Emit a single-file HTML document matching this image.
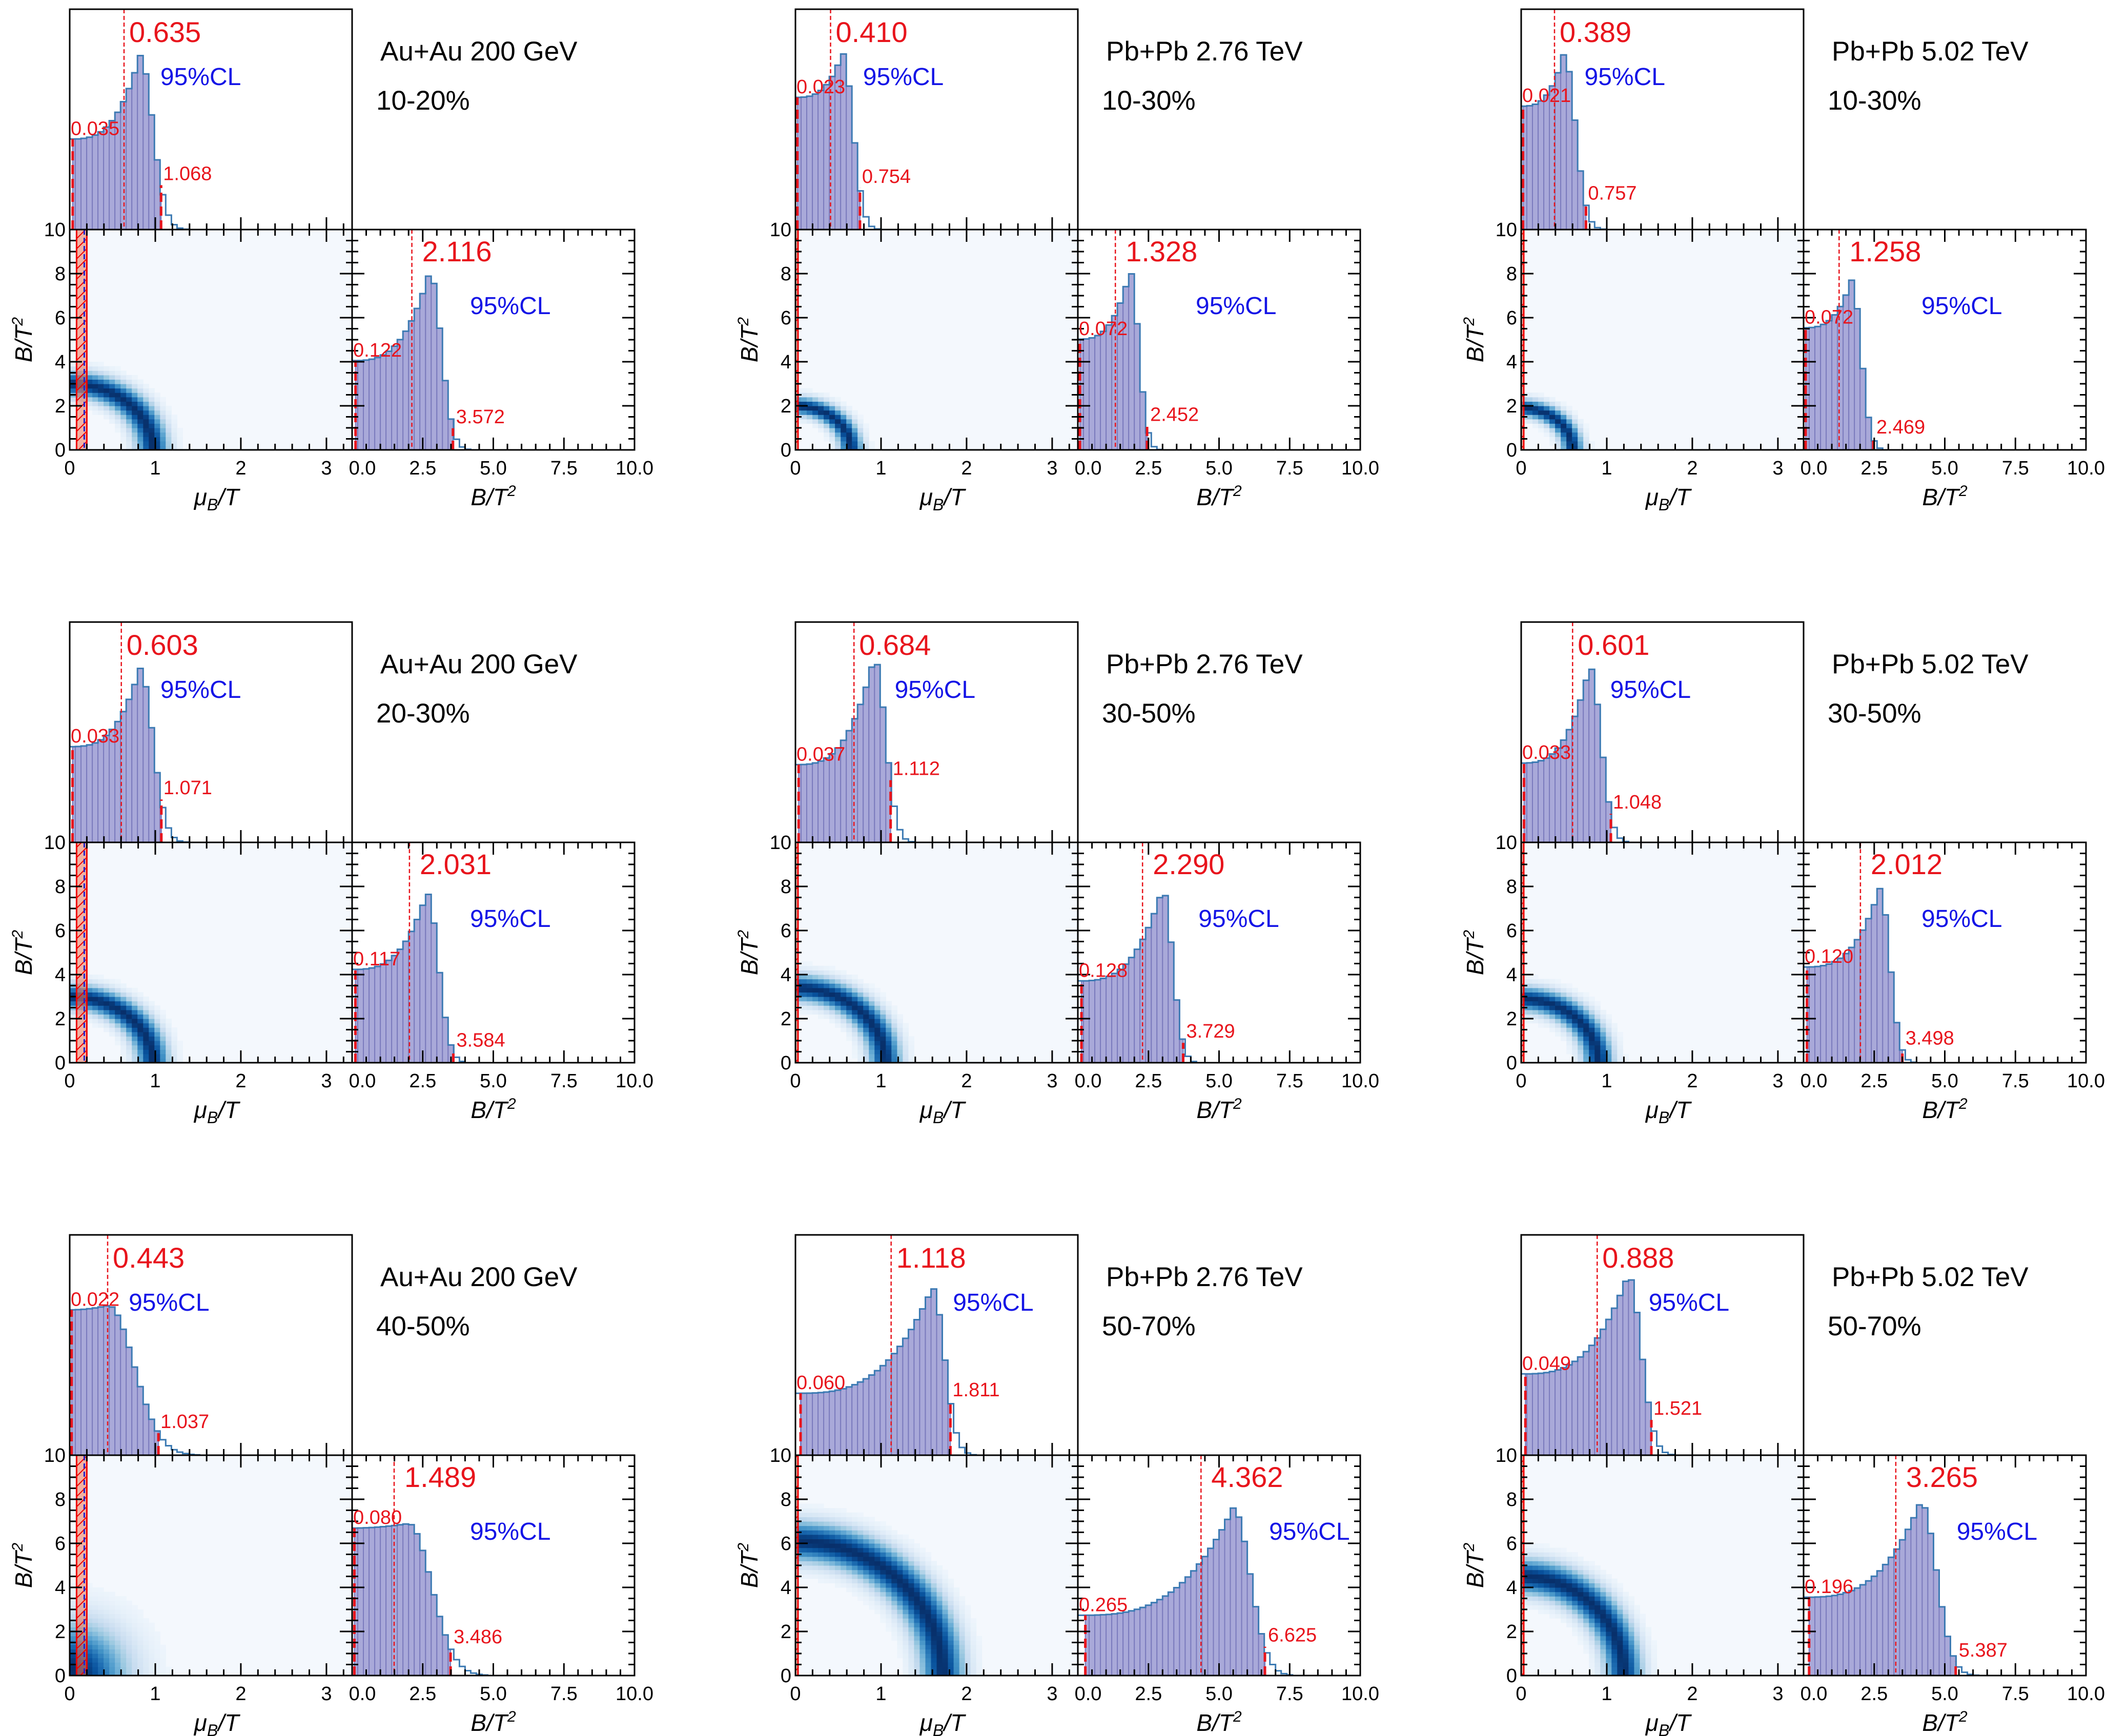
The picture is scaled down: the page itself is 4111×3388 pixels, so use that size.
<!DOCTYPE html>
<html><head><meta charset="utf-8"><style>
html,body{margin:0;padding:0;background:#fff;}
svg{display:block;font-family:"Liberation Sans",Arial,sans-serif;}
</style></head><body>
<svg id="s" width="4111" height="3388" viewBox="0 0 4111 3388" xmlns="http://www.w3.org/2000/svg">
<defs>
<pattern id="hatch" width="14" height="14" patternUnits="userSpaceOnUse" patternTransform="rotate(45)">
<rect width="14" height="14" fill="rgba(240,120,90,0.55)"/>
<line x1="0" y1="0" x2="0" y2="14" stroke="#e00" stroke-width="4"/>
</pattern>
</defs>
<rect width="4111" height="3388" fill="#fff"/>
</svg>
<script>
(function(){
const S=document.getElementById('s');
let out='';
const W=551,H=430,MX=3.3;
const XS=[136,1552,2968],YS=[18,1214,2410];
const titles=["Au+Au 200 GeV","Pb+Pb 2.76 TeV","Pb+Pb 5.02 TeV"];
const cents=[["10-20%","10-30%","10-30%"],["20-30%","30-50%","30-50%"],["40-50%","50-70%","50-70%"]];
// mu[lo,med,hi], B[lo,med,hi], muShape[P,base,n,w,peakFrac], BShape[P,base,n,w,peakVal], ring[Rmu,RB,r0,s]
const P=[
 [[0.035,0.635,1.068],[0.122,2.116,3.572],[0.82,0.52,3,0.15,0.79],[2.75,0.5,3,0.4,8.1],[0.97,3.0,1,0.13]],
 [[0.023,0.410,0.754],[0.072,1.328,2.452],[0.55,0.75,3,0.12,0.8],[1.85,0.62,3,0.3,8.1],[0.65,2.0,1,0.14]],
 [[0.021,0.389,0.757],[0.072,1.258,2.469],[0.5,0.7,3,0.13,0.8],[1.7,0.72,3,0.33,7.7],[0.6,1.9,1,0.14]],
 [[0.033,0.603,1.071],[0.117,2.031,3.584],[0.82,0.55,3,0.15,0.79],[2.65,0.55,3,0.4,7.7],[0.97,3.0,1,0.13]],
 [[0.037,0.684,1.112],[0.128,2.290,3.729],[0.92,0.42,3,0.13,0.84],[3.0,0.47,3,0.35,7.9],[1.05,3.4,1,0.12]],
 [[0.033,0.601,1.048],[0.120,2.012,3.498],[0.8,0.45,3,0.13,0.8],[2.7,0.55,3,0.35,7.9],[0.9,2.9,1,0.13]],
 [[0.022,0.443,1.037],[0.080,1.489,3.486],[0.45,0.97,2,0.3,0.68],[2.0,0.97,2,0.8,6.9],[1.0,3.6,0.1,0.38]],
 [[0.060,1.118,1.811],[0.265,4.362,6.625],[1.6,0.37,3,0.14,0.76],[5.5,0.36,3,0.6,7.6],[1.72,6.1,1,0.1]],
 [[0.049,0.888,1.521],[0.196,3.265,5.387],[1.25,0.45,3,0.15,0.82],[4.15,0.45,3,0.55,7.9],[1.2,4.5,1,0.12]]
];
function hv(x,p){const [Pk,b,n,w]=p; if(x<0)return 0; if(x<Pk)return b+(1-b)*Math.pow(x/Pk,n); return Math.exp(-(x-Pk)*(x-Pk)/(2*w*w));}
const stops=[[0,[247,251,255]],[0.125,[222,235,247]],[0.25,[198,219,239]],[0.375,[158,202,225]],[0.5,[107,174,214]],[0.625,[66,146,198]],[0.75,[33,113,181]],[0.875,[8,81,156]],[1,[8,48,107]]];
function cmap(v){v=Math.max(0,Math.min(1,v));for(let i=1;i<stops.length;i++){if(v<=stops[i][0]){const a=stops[i-1],b=stops[i];const t=(v-a[0])/(b[0]-a[0]);return 'rgb('+a[1].map((c,k)=>Math.round(c+(b[1][k]-c)*t)).join(',')+')';}}return 'rgb(8,48,107)';}
function f(v){return v.toFixed(1);}
function hist(x0,y0,w,h,xmax,shape,cl,scale){
 const nb=50,bw=xmax/nb,px=w/xmax,base=y0+h;
 let vals=[];for(let i=0;i<nb;i++)vals.push(hv((i+0.5)*bw,shape));
 let s='';
 for(let i=0;i<nb;i++){const a=i*bw,b=(i+1)*bw;const lo=Math.max(a,cl[0]),hi=Math.min(b,cl[2]);if(hi>lo){const yy=base-vals[i]*scale;s+=`<rect x="${f(x0+lo*px)}" y="${f(yy)}" width="${f((hi-lo)*px)}" height="${f(vals[i]*scale)}" fill="#a9a9d9" stroke="#7b7bbd" stroke-width="2"/>`;}}
 let d=`M${x0} ${base}`;for(let i=0;i<nb;i++){const yy=vals[i]*scale<0.5?base:base-vals[i]*scale;d+=`L${f(x0+i*bw*px)} ${f(yy)}L${f(x0+(i+1)*bw*px)} ${f(yy)}`;}
 s+=`<path d="${d}" fill="none" stroke="#3c7ab3" stroke-width="3"/>`;
 const yv=x=>base-hv(x,shape)*scale;
 for(const k of [0,2]){const xx=x0+cl[k]*px;s+=`<line x1="${f(xx)}" y1="${base}" x2="${f(xx)}" y2="${f(yv(cl[k]))}" stroke="#e8141c" stroke-width="5" stroke-dasharray="18,9"/>`;}
 const xm=x0+cl[1]*px;s+=`<line x1="${f(xm)}" y1="${y0}" x2="${f(xm)}" y2="${base}" stroke="#e8141c" stroke-width="2.5" stroke-dasharray="8,5"/>`;
 return {s,yv,px};
}
const fmt=v=>v.toFixed(3);
for(let r=0;r<3;r++)for(let c=0;c<3;c++){
 const p=P[r*3+c],X0=XS[c],Y0=YS[r],Y1=Y0+H,Y2=Y1+H,X1=X0+W,X2=X1+W;
 const mpx=W/MX;
 out+=`<rect x="${X0}" y="${Y1}" width="${W}" height="${H}" fill="#f4f8fd"/>`;
 const [Rm,RB,r0,sg]=p[4];const nx=50,ny=50;
 for(let i=0;i<nx;i++)for(let j=0;j<ny;j++){const mu=(i+0.5)*MX/nx,B=(j+0.5)*10/ny;const rr=Math.sqrt((mu/Rm)**2+(B/RB)**2);const d=Math.exp(-((rr-r0)**2)/(2*sg*sg));if(d<0.02)continue;
  out+=`<rect x="${f(X0+i*W/nx)}" y="${f(Y2-(j+1)*H/ny)}" width="${f(W/nx+0.6)}" height="${f(H/ny+0.6)}" fill="${cmap(d*0.97+0.03)}"/>`;}
 const bl=c==0?0.08:0.0, bh=c==0?0.2:0.03;
 out+=`<rect x="${f(X0+bl*mpx)}" y="${Y1}" width="${f((bh-bl)*mpx)}" height="${H}" fill="url(#hatch)" stroke="#e00" stroke-width="3"/>`;
 if(c==0) out+=`<line x1="${f(X0+0.17*mpx)}" y1="${Y1}" x2="${f(X0+0.17*mpx)}" y2="${Y2}" stroke="#22c" stroke-width="3" stroke-dasharray="10,6"/>`;
 const th=hist(X0,Y0,W,H,MX,p[2],p[0],p[2][4]*H);
 out+=th.s;
 const bh2=hist(X1,Y1,W,H,10,p[3],p[1],p[3][4]*H/10);
 out+=bh2.s;
 out+=`<rect x="${X0}" y="${Y0}" width="${W}" height="${H}" fill="none" stroke="#000" stroke-width="3"/>`;
 out+=`<rect x="${X0}" y="${Y1}" width="${W}" height="${H}" fill="none" stroke="#000" stroke-width="3"/>`;
 out+=`<rect x="${X1}" y="${Y1}" width="${W}" height="${H}" fill="none" stroke="#000" stroke-width="3"/>`;
 let t='';
 for(let k=0;k<=16;k++){const x=X0+k*0.2*mpx;const L=(k%5==0)?24:12;
  t+=`M${f(x)} ${Y2}v${-L}M${f(x)} ${Y1}v${L}M${f(x)} ${Y1}v${-L}`;}
 for(let k=0;k<=20;k++){const y=Y2-k*0.5*H/10;const L=(k%4==0)?24:12;
  t+=`M${X0} ${f(y)}h${L}M${X1} ${f(y)}h${-L}M${X1} ${f(y)}h${L}M${X2} ${f(y)}h${-L}`;}
 for(let k=0;k<=20;k++){const x=X1+k*0.5*W/10;const L=(k%5==0)?24:12;t+=`M${f(x)} ${Y2}v${-L}M${f(x)} ${Y1}v${L}`;}
 out+=`<path d="${t}" stroke="#000" stroke-width="3" fill="none"/>`;
 const fs=38;
 for(let k=0;k<=3;k++)out+=`<text x="${f(X0+k*mpx)}" y="${Y2+48}" font-size="${fs}" text-anchor="middle">${k}</text>`;
 ["0.0","2.5","5.0","7.5","10.0"].forEach((s,k)=>{out+=`<text x="${f(X1+k*W/4+(k==0?20:0))}" y="${Y2+48}" font-size="${fs}" text-anchor="middle">${s}</text>`;});
 for(let k=0;k<=5;k++)out+=`<text x="${X0-8}" y="${f(Y2-k*2*H/10+13)}" font-size="${fs}" text-anchor="end">${k*2}</text>`;
 out+=`<text x="${X0+W*0.52}" y="${Y2+108}" font-size="46" font-style="italic" text-anchor="middle">μ<tspan font-size="32" dy="10">B</tspan><tspan dy="-10">/T</tspan></text>`;
 out+=`<text x="${X1+W*0.5}" y="${Y2+108}" font-size="46" font-style="italic" text-anchor="middle">B/T<tspan font-size="30" dy="-18">2</tspan></text>`;
 out+=`<text transform="translate(${X0-74},${Y1+H/2}) rotate(-90)" font-size="46" font-style="italic" text-anchor="middle">B/T<tspan font-size="30" dy="-18">2</tspan></text>`;
 out+=`<text x="${f(X0+p[0][1]*mpx+10)}" y="${Y0+64}" font-size="56" fill="#e8141c">${fmt(p[0][1])}</text>`;
 let pkx=X0+p[2][0]*mpx;
 out+=`<text x="${f(pkx+40)}" y="${Y0+148}" font-size="48" fill="#1414e6">95%CL</text>`;
 out+=`<text x="${X0+2}" y="${f(th.yv(p[0][0])-8)}" font-size="38" fill="#e8141c">${fmt(p[0][0])}</text>`;
 out+=`<text x="${f(X0+p[0][2]*mpx+4)}" y="${f(th.yv(p[0][2])-10)}" font-size="38" fill="#e8141c">${fmt(p[0][2])}</text>`;
 const bpx=W/10;
 out+=`<text x="${f(X1+p[1][1]*bpx+20)}" y="${Y1+62}" font-size="56" fill="#e8141c">${fmt(p[1][1])}</text>`;
 let bpk=X1+p[3][0]*bpx;
 out+=`<text x="${f(Math.max(bpk+70,X1+230))}" y="${Y1+165}" font-size="48" fill="#1414e6">95%CL</text>`;
 out+=`<text x="${X1+2}" y="${f(bh2.yv(p[1][0])-8)}" font-size="38" fill="#e8141c">${fmt(p[1][0])}</text>`;
 out+=`<text x="${f(X1+p[1][2]*bpx+6)}" y="${f(bh2.yv(p[1][2])-10)}" font-size="38" fill="#e8141c">${fmt(p[1][2])}</text>`;
 out+=`<text x="${X1+55}" y="${Y0+100}" font-size="53">${titles[c]}</text>`;
 out+=`<text x="${X1+47}" y="${Y0+196}" font-size="53">${cents[r][c]}</text>`;
}
S.insertAdjacentHTML('beforeend',out);
})();
</script>
</body></html>
